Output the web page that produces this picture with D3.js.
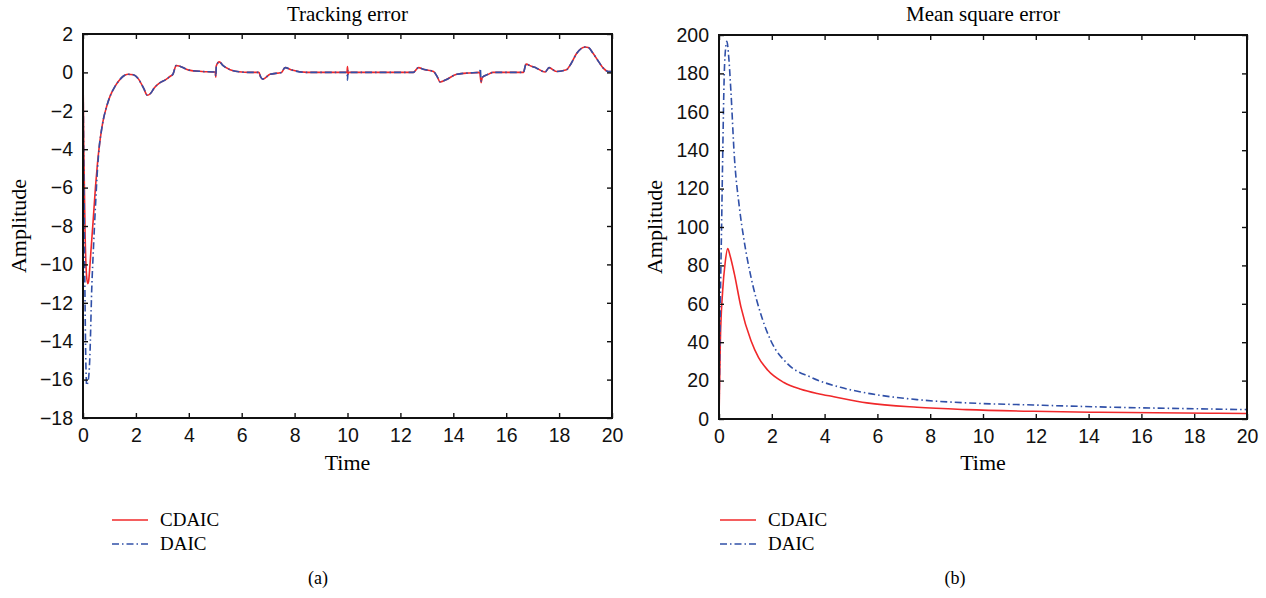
<!DOCTYPE html>
<html lang='en'>
    <head>
        <meta charset="utf-8">
        <title>Tracking error / Mean square error</title>
        <script src="https://d3js.org/d3.v7.min.js"></script>
        <style>
            body { margin:0; background:white; }
            svg { font-family: "Liberation Serif", "DejaVu Serif", serif; }
            .tick text { font-size: 19.5px; fill: #111; }
            .tick line { stroke: #111; stroke-width: 1.4px; }
        </style>
    </head>
    <body>
        <svg id="chart" width="1266" height="598"></svg>
    </body>

    <script>
        // ---- data ----
        // (a) tracking error
        const te_cdaic_t = [0, 0.03, 0.08, 0.13, 0.18, 0.21, 0.25, 0.3, 0.38, 0.47, 0.55, 0.62, 0.7, 0.77, 0.9, 1.02, 1.2, 1.35, 1.52, 1.7, 1.9, 2.1, 2.3, 2.43, 2.55, 2.7, 2.9, 3.1, 3.3, 3.4, 3.52, 3.7, 4.0, 4.5, 5.0, 5.02, 5.04, 5.15, 5.3, 5.56, 5.9, 6.3, 6.65, 6.72, 6.8, 7.07, 7.5, 7.64, 7.9, 8.46, 9.98, 10.0, 10.02, 10.04, 12.49, 12.68, 12.9, 13.25, 13.4, 13.5, 13.7, 14.13, 14.6, 15.0, 15.05, 15.1, 15.32, 15.5, 16.65, 16.75, 16.95, 17.15, 17.47, 17.62, 17.9, 18.28, 18.45, 18.66, 18.98, 19.1, 19.29, 19.5, 19.67, 19.86, 20];
        const te_cdaic = [0, -4, -8.5, -10.5, -11, -10.9, -10.3, -9.3, -7.8, -6.0, -4.7, -3.8, -3.0, -2.45, -1.75, -1.25, -0.75, -0.45, -0.2, -0.1, -0.12, -0.35, -0.85, -1.19, -1.1, -0.8, -0.55, -0.4, -0.2, -0.1, 0.36, 0.3, 0.12, 0.05, 0.02, -0.25, 0.35, 0.55, 0.35, 0.14, 0.03, 0, 0, -0.25, -0.35, -0.1, 0, 0.25, 0.12, 0, 0, 0.3, -0.1, 0, 0, 0.25, 0.15, 0.05, -0.25, -0.5, -0.4, -0.1, -0.03, 0, -0.53, -0.25, -0.1, 0, 0, 0.43, 0.32, 0.22, 0.02, 0.25, 0.05, 0.14, 0.45, 0.98, 1.32, 1.3, 0.98, 0.55, 0.22, 0.05, 0.05];

        const te_daic_t = [0, 0.03, 0.07, 0.1, 0.14, 0.17, 0.22, 0.26, 0.33, 0.4, 0.47, 0.55, 0.62, 0.7, 0.77, 0.9, 1.02, 1.2, 1.35, 1.52, 1.7, 1.9, 2.1, 2.3, 2.43, 2.55, 2.7, 2.9, 3.1, 3.3, 3.4, 3.52, 3.7, 4.0, 4.5, 5.0, 5.02, 5.04, 5.15, 5.3, 5.56, 5.9, 6.3, 6.65, 6.72, 6.8, 7.07, 7.5, 7.64, 7.9, 8.46, 9.98, 10.0, 10.02, 10.04, 12.49, 12.68, 12.9, 13.25, 13.4, 13.5, 13.7, 14.13, 14.6, 15.0, 15.02, 15.05, 15.1, 15.32, 15.5, 16.65, 16.75, 16.95, 17.15, 17.47, 17.62, 17.9, 18.28, 18.45, 18.66, 18.98, 19.1, 19.29, 19.5, 19.67, 19.86, 20];
        const te_daic = [0, -5, -11, -14.5, -16.3, -16.2, -15.8, -14.8, -11.3, -9, -7, -5.0, -3.8, -3.0, -2.45, -1.75, -1.25, -0.75, -0.45, -0.2, -0.1, -0.12, -0.35, -0.85, -1.19, -1.1, -0.8, -0.55, -0.4, -0.2, -0.1, 0.36, 0.3, 0.12, 0.05, 0.02, -0.2, 0.3, 0.55, 0.35, 0.14, 0.03, 0, 0, -0.25, -0.35, -0.1, 0, 0.25, 0.12, 0, 0, -0.4, 0.1, 0, 0, 0.25, 0.15, 0.05, -0.25, -0.5, -0.4, -0.1, -0.03, 0, 0.2, -0.45, -0.25, -0.1, 0, 0, 0.43, 0.32, 0.22, 0.02, 0.25, 0.05, 0.14, 0.45, 0.98, 1.32, 1.3, 0.98, 0.55, 0.22, 0.05, 0.05];

        // (b) mean square error
        const mse_cdaic_t = [0, 0.05, 0.14, 0.23, 0.33, 0.42, 0.58, 0.83, 1.21, 1.5, 1.84, 2.46, 3.1, 3.72, 4.35, 5.6, 7.5, 9.38, 11.9, 14.4, 18.6, 20];
        const mse_cdaic = [0, 40, 67, 81, 88.8, 85, 75.7, 58.4, 40.9, 32, 25.5, 19, 15.5, 13.3, 11.6, 8.4, 6.1, 4.9, 4.0, 3.5, 3.0, 2.9];

        const mse_daic_t = [0, 0.05, 0.1, 0.14, 0.2, 0.25, 0.3, 0.36, 0.45, 0.58, 0.77, 0.95, 1.21, 1.58, 1.96, 2.6, 3.47, 4.6, 5.6, 7.5, 9.38, 11.9, 14.4, 18.6, 20];
        const mse_daic = [0, 60, 102, 137, 180, 193, 196.7, 190, 171, 137, 110.5, 93, 74, 54.8, 40.9, 28.7, 21.8, 16.5, 13.5, 10.1, 8.4, 7.3, 6.3, 5.2, 4.9];

        const xTicks = [0, 2, 4, 6, 8, 10, 12, 14, 16, 18, 20];
        const teTicks = [2, 0, -2, -4, -6, -8, -10, -12, -14, -16, -18];
        const mseTicks = [0, 20, 40, 60, 80, 100, 120, 140, 160, 180, 200];

        const seriesNames = ["CDAIC", "DAIC"];
        const red = "#f0282a";
        const blue = "#3050a8";

        const svg = d3.select("#chart");

        // build one panel
        function panel(box, yDomain, yTicks, title, caption, lines) {
            const x = d3.scaleLinear().domain([0, 20]).range([box.left, box.right]);
            const y = d3.scaleLinear().domain(yDomain).range([box.bottom, box.top]);
            const g = svg.append("g");

            // lines first (under the frame)
            const line = d3.line().x(d => x(d[0])).y(d => y(d[1])).curve(d3.curveMonotoneX);
            lines.forEach(l => {
                g.append("path")
                    .datum(d3.zip(l.t, l.v))
                    .attr("d", line)
                    .attr("fill", "none")
                    .attr("stroke", l.color)
                    .attr("stroke-width", 1.6)
                    .attr("stroke-dasharray", l.dash || null);
            });

            // axes with inward ticks
            g.append("g").attr("transform", `translate(0,${box.bottom})`)
                .call(d3.axisBottom(x).tickValues(xTicks).tickSize(-5).tickPadding(10).tickFormat(d3.format("d")));
            g.append("g").attr("transform", `translate(${box.left},0)`)
                .call(d3.axisLeft(y).tickValues(yTicks).tickSize(-5).tickPadding(10).tickFormat(d3.format("d")));
            g.append("g").attr("transform", `translate(0,${box.top})`)
                .call(d3.axisTop(x).tickValues(xTicks).tickSize(-5).tickFormat(""));
            g.append("g").attr("transform", `translate(${box.right},0)`)
                .call(d3.axisRight(y).tickValues(yTicks).tickSize(-5).tickFormat(""));
            g.selectAll(".domain").remove();

            g.append("rect")
                .attr("x", box.left).attr("y", box.top)
                .attr("width", box.right - box.left).attr("height", box.bottom - box.top)
                .attr("fill", "none").attr("stroke", "#111").attr("stroke-width", 2);

            const cx = (box.left + box.right) / 2;
            g.append("text").attr("x", cx).attr("y", 21).attr("text-anchor", "middle")
                .attr("font-size", 21).text(title);
            g.append("text").attr("x", cx).attr("y", 470).attr("text-anchor", "middle")
                .attr("font-size", 22).text("Time");
            g.append("text")
                .attr("transform", `translate(${box.left - 57},${(box.top + box.bottom) / 2}) rotate(-90)`)
                .attr("text-anchor", "middle").attr("font-size", 22).text("Amplitude");
            g.append("text").attr("x", box.capX).attr("y", 584).attr("text-anchor", "middle")
                .attr("font-size", 18).text(caption);

            // legend
            lines.forEach((l, i) => {
                const ly = 520 + i * 24;
                g.append("line")
                    .attr("x1", box.legX).attr("x2", box.legX + 36)
                    .attr("y1", ly).attr("y2", ly)
                    .attr("stroke", l.color).attr("stroke-width", 1.6)
                    .attr("stroke-dasharray", l.dash || null);
                g.append("text").attr("x", box.legX + 48).attr("y", ly + 6)
                    .attr("font-size", 19).text(l.name);
            });
        }

        panel({left: 83, right: 612, top: 34, bottom: 418, legX: 112, capX: 318},
            [-18, 2], teTicks, "Tracking error", "(a)", [
                {name: seriesNames[0], t: te_cdaic_t, v: te_cdaic, color: red},
                {name: seriesNames[1], t: te_daic_t, v: te_daic, color: blue, dash: "7,3,1.5,3"}
            ]);

        panel({left: 719, right: 1247, top: 35, bottom: 419, legX: 720, capX: 955},
            [0, 200], mseTicks, "Mean square error", "(b)", [
                {name: seriesNames[0], t: mse_cdaic_t, v: mse_cdaic, color: red},
                {name: seriesNames[1], t: mse_daic_t, v: mse_daic, color: blue, dash: "7,3,1.5,3"}
            ]);
    </script>
</html>
